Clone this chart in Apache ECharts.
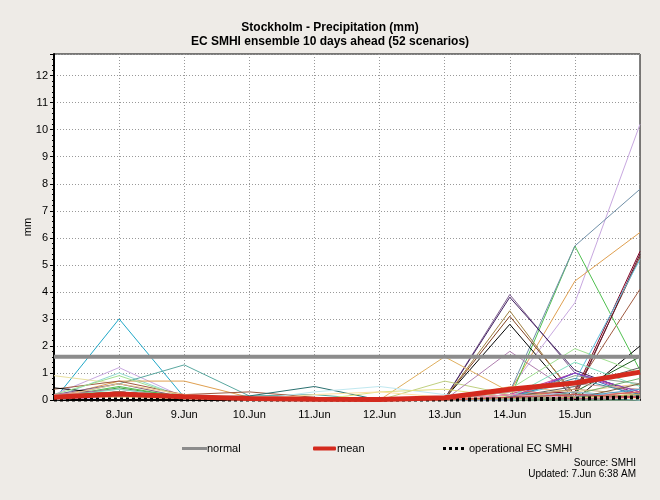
<!DOCTYPE html>
<html><head><meta charset="utf-8">
<script src="https://cdn.jsdelivr.net/npm/echarts@6/dist/echarts.min.js"></script>
<style>html,body{margin:0;padding:0;background:#eeebe7;}#c{width:660px;height:500px;}</style>
</head><body><div id="c"></div>
<script>
var categories = ['7.Jun','8.Jun','9.Jun','10.Jun','11.Jun','12.Jun','13.Jun','14.Jun','15.Jun','16.Jun'];
var members = [
  [0, 3.0, 0.1, 0, 0, 0, 0, 0, 0, 0],
  [0.2, 1.2, 0.1, 0, 0, 0, 0, 0.4, 3.6, 10.2],
  [0.1, 1.0, 0.1, 0, 0, 0, 0, 0, 0.2, 0.1],
  [0.9, 0.6, 0.1, 0, 0, 0, 0, 0, 0, 0],
  [0.1, 0.6, 1.3, 0.15, 0.2, 0, 0, 0, 0.3, 0.1],
  [0.1, 0.7, 0.7, 0.1, 0, 0, 0, 0.3, 4.4, 6.2],
  [0.4, 0.7, 0.2, 0.3, 0.1, 0, 0, 0.1, 0.4, 4.1],
  [0.2, 0.6, 0.1, 0, 0, 0, 0.05, 3.9, 1.0, 0.3],
  [0.1, 0.5, 0.1, 0, 0, 0, 0, 0.05, 5.7, 1.1],
  [0.1, 0.45, 0.1, 0, 0, 0, 0, 0, 0.1, 0.1],
  [0.1, 0.2, 0.1, 0, 0, 0, 0, 0.3, 5.7, 7.8],
  [0.2, 0.1, 0.1, 0.15, 0.5, 0, 0, 0, 0.1, 0],
  [0.45, 0.2, 0.15, 0.1, 0, 0, 0.05, 2.8, 0, 2.0],
  [0.1, 0.1, 0.1, 0, 0, 0, 0.05, 3.8, 1.1, 0.2],
  [0.1, 0.3, 0.1, 0, 0, 0, 0.05, 3.1, 0.2, 5.3],
  [0.1, 0.2, 0.05, 0, 0, 0, 0.05, 3.3, 0.1, 0.3],
  [0.1, 0.2, 0.1, 0, 0, 0, 0, 0.2, 0.3, 5.5],
  [0.1, 0.3, 0.1, 0, 0, 0, 0, 0.1, 0.1, 5.4],
  [0.1, 0.2, 0.1, 0, 0, 0, 1.6, 0.3, 0.1, 0.2],
  [0.1, 0.1, 0.1, 0, 0, 0, 0.7, 0.2, 0.1, 0.1],
  [0, 0.2, 0.1, 0, 0.3, 0.5, 0.2, 0.1, 0.2, 0],
  [0.2, 0.9, 0.1, 0, 0, 0, 0, 0.4, 1.9, 1.0],
  [0.2, 0.4, 0.1, 0, 0, 0, 0, 1.8, 0.2, 0.1],
  [0.1, 0.3, 0.1, 0, 0, 0, 0, 0.2, 1.0, 0.2],
  [0.1, 0.2, 0.1, 0, 0, 0, 0, 0, 1.0, 0.1],
  [0.1, 0.2, 0.1, 0, 0, 0, 0, 0, 0.3, 1.6],
  [0.1, 0.6, 0.2, 0, 0, 0, 0, 0.5, 0.3, 0.6],
  [0.1, 0.3, 0.1, 0, 0, 0, 0, 0.1, 0.7, 5.2],
  [0.2, 0.3, 0.1, 0, 0, 0, 0, 0.1, 0.1, 0.3],
  [0.1, 0.2, 0.05, 0, 0, 0, 0, 0.1, 0.4, 0.2],
  [0.1, 0.1, 0.1, 0, 0, 0, 0, 0.1, 0.9, 0.6],
  [0.1, 0.15, 0.05, 0, 0, 0, 0, 0.05, 0.1, 0.05],
  [0.05, 0.1, 0.05, 0, 0, 0, 0, 0, 0.2, 0.1],
  [0.2, 0.25, 0.1, 0, 0, 0, 0, 0.3, 0.6, 0.4],
  [0.1, 0.4, 0.1, 0, 0, 0, 0, 0.1, 1.4, 0.5],
  [0.1, 0.1, 0.05, 0, 0, 0.3, 0.4, 0.1, 0.1, 0.2],
  [0.15, 0.3, 0.1, 0.05, 0, 0, 0, 0.1, 0.2, 0.1],
  [0.1, 0.2, 0.1, 0, 0, 0, 0, 0.1, 0.5, 1.2],
  [0.1, 0.2, 0.1, 0, 0, 0, 0, 0.1, 0.8, 0.2],
  [0.1, 0.2, 0.05, 0, 0, 0, 0, 0.2, 0.1, 0.1],
  [0.1, 0.2, 0.1, 0, 0, 0, 0, 0.1, 1.0, 0.3],
  [0.1, 0.1, 0.05, 0, 0, 0, 0, 0, 0.1, 0.05],
  [0.05, 0.1, 0.05, 0, 0, 0, 0, 0.2, 0.1, 0.05],
  [0.1, 0.3, 0.1, 0, 0, 0, 0, 0.1, 0.2, 0.8],
  [0.1, 0.2, 0.1, 0, 0, 0, 0, 0.4, 0.1, 0.3],
  [0.1, 0.15, 0.05, 0, 0, 0, 0, 0.05, 0.3, 0.05],
  [0.1, 0.2, 0.1, 0.05, 0, 0, 0, 0.05, 0.05, 0.6],
  [0.1, 0.1, 0.05, 0, 0.2, 0.3, 0.1, 0.05, 0.1, 0.05],
  [0.1, 0.2, 0.1, 0, 0, 0, 0, 0.1, 0.05, 0.1],
  [0.1, 0.2, 0.05, 0, 0, 0, 0, 0.05, 0.1, 0.4],
  [0.1, 0.15, 0.05, 0, 0, 0, 0, 0.05, 0.1, 0.2],
  [0.15, 0.25, 0.1, 0, 0, 0, 0, 0.1, 0.2, 0.1]
];
var memberColors = ['#20a8c8','#c8a8e0','#90d8d0','#e8e0a0','#5aa8a0','#e0a050','#a05a40','#806090','#50c050','#40a040',
  '#7090a8','#2a7070','#000000','#402060','#804020','#a08040','#800020','#601030','#e0b060','#c0d080',
  '#c0e8f0','#a0e090','#b080b0','#c040a0','#4060c0','#206020','#f0c890','#60c0e0','#f08070','#c0a070',
  '#90a090','#ffb0b0','#a0a0ff','#d0a0a0','#80e0c0','#e0e080','#b04040','#606060','#4090a0','#d08040',
  '#9040c0','#c0c0c0','#f0a0d0','#70b070','#e06060','#a0c0e0','#806040','#ffe0a0','#c06080','#50a0d0',
  '#b0b060','#d05050'];
var meanValues = [0.1, 0.22, 0.12, 0.06, 0.03, 0.02, 0.08, 0.4, 0.63, 1.03];
var normalValues = [1.6, 1.6, 1.6, 1.6, 1.6, 1.6, 1.6, 1.6, 1.6, 1.6];
var operationalValues = [0.02, 0.02, 0.02, 0.02, 0.02, 0.02, 0.02, 0.02, 0.05, 0.1];
var titleLines = ['Stockholm - Precipitation (mm)', 'EC SMHI ensemble 10 days ahead (52 scenarios)'];
var sourceLines = ['Source: SMHI', 'Updated: 7.Jun 6:38 AM'];

var FONT = '"Liberation Sans", Arial, sans-serif';
var series = members.map(function (m, i) {
  return { name: 'm' + i, type: 'line', data: m, symbol: 'none', silent: true, clip: false,
    lineStyle: { width: 1, color: memberColors[i] }, z: 2 };
});
series.push({ name: 'normal', type: 'line', data: normalValues, symbol: 'none', z: 3,
  lineStyle: { width: 4, color: '#8c8c8c' }, itemStyle: { color: '#8c8c8c' } });
series.push({ name: 'operational EC SMHI', type: 'line', data: operationalValues, symbol: 'none', z: 4, clip: false,
  lineStyle: { width: 4, color: '#000', type: [3, 3], cap: 'butt' }, itemStyle: { color: '#000' } });
series.push({ name: 'mean', type: 'line', data: meanValues, symbol: 'none', z: 5, clip: false,
  lineStyle: { width: 5, color: '#d42a1e' }, itemStyle: { color: '#d42a1e' } });

var chart = echarts.init(document.getElementById('c'));
function legendAt(left, name, icon, w, h, pad) {
  return { top: 438, left: left, itemWidth: w, itemHeight: h, selectedMode: false,
    data: [{ name: name, icon: icon }],
    textStyle: { fontFamily: FONT, fontSize: 11, color: '#000', padding: [0, 0, 0, pad] } };
}
chart.setOption({
  backgroundColor: '#eeebe7',
  animation: false,
  title: { text: titleLines.join('\n'), left: 'center', top: 16,
    textStyle: { fontFamily: FONT, fontSize: 12, fontWeight: 'bold', color: '#000', lineHeight: 14 } },
  legend: [
    legendAt(177, 'normal', 'rect', 25, 3, -5),
    legendAt(308, 'mean', 'roundRect', 23, 4, -4),
    legendAt(438, 'operational EC SMHI', 'path://M0,0h3v3h-3z M6,0h3v3h-3z M12,0h3v3h-3z M18,0h3v3h-3z', 21, 3, 0)
  ],
  grid: { left: 54, right: 20, top: 54, bottom: 100, show: true, backgroundColor: '#fff',
    borderColor: '#000', borderWidth: 1 },
  xAxis: { type: 'category', data: categories, boundaryGap: false,
    axisLine: { lineStyle: { color: '#000', width: 2 } },
    axisTick: { show: false },
    axisLabel: { fontFamily: FONT, fontSize: 11, color: '#000', margin: 9,
      interval: function (i) { return i > 0 && i < categories.length - 1; } },
    splitLine: { show: true, lineStyle: { color: '#999', type: [1, 2] } } },
  yAxis: { type: 'value', min: 0, max: 12.8, interval: 1, name: 'mm', nameLocation: 'middle', nameGap: 21,
    nameMoveOverlap: false,
    nameTextStyle: { fontFamily: FONT, fontSize: 11, color: '#000' },
    axisLine: { show: true, lineStyle: { color: '#000', width: 2 } },
    axisTick: { show: true, length: 4, lineStyle: { color: '#000' } },
    minorTick: { show: true, splitNumber: 5, length: 2, lineStyle: { color: '#000' } },
    axisLabel: { fontFamily: FONT, fontSize: 11, color: '#000', margin: 6,
      formatter: function (v) { return Math.abs(v - Math.round(v)) < 1e-6 ? String(Math.round(v)) : ''; } },
    splitLine: { show: true, lineStyle: { color: '#999', type: [1, 2] } } },
  graphic: [
    { type: 'text', right: 24, top: 458, style: { text: sourceLines[0], fontFamily: FONT, fontSize: 10, fill: '#000', textAlign: 'right' } },
    { type: 'text', right: 24, top: 469, style: { text: sourceLines[1], fontFamily: FONT, fontSize: 10, fill: '#000', textAlign: 'right' } }
  ],
  series: series
});
</script></body></html>
